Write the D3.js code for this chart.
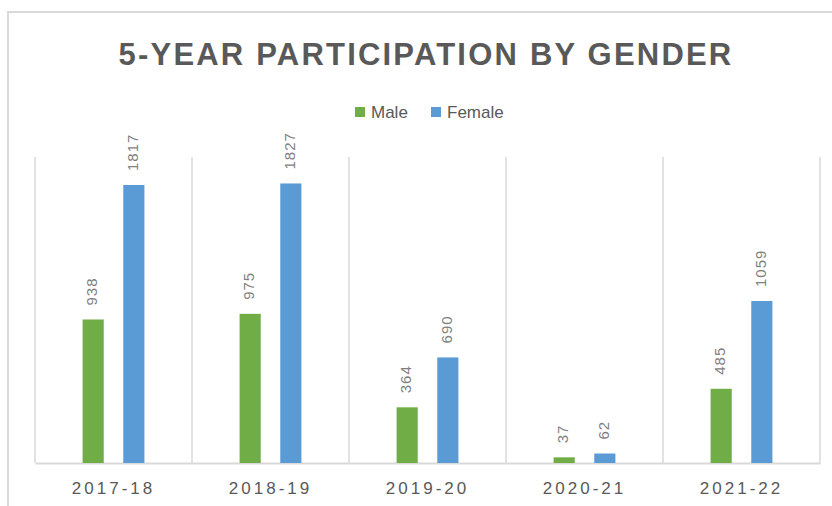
<!DOCTYPE html>
<html>
<head>
<meta charset="utf-8">
<script src="https://cdn.jsdelivr.net/npm/d3@7"></script>
<style>
  body { margin: 0; background: #fff; }
  text { font-family: "Liberation Sans", Arial, sans-serif; }
</style>
</head>
<body>
<div id="chart-area"></div>
<script>
var years = ["2017-18", "2018-19", "2019-20", "2020-21", "2021-22"];
var series = ["Male", "Female"];
var male = [938, 975, 364, 37, 485];
var female = [1817, 1827, 690, 62, 1059];
var colors = ["#70ad47", "#5b9bd5"];

var W = 832, H = 506;
var margin = {left: 35, right: 12, top: 157, bottom: 43};
var width = W - margin.left - margin.right;
var height = H - margin.top - margin.bottom;

var svg = d3.select("#chart-area").append("svg")
    .attr("width", W)
    .attr("height", H);

// outer chart border (runs off the picture on the right and bottom)
svg.append("rect")
    .attr("x", 8).attr("y", 12)
    .attr("width", W).attr("height", H)
    .attr("fill", "none")
    .attr("stroke", "#d9d9d9")
    .attr("stroke-width", 2);

svg.append("text")
    .attr("x", 426).attr("y", 65)
    .attr("text-anchor", "middle")
    .attr("fill", "#595959")
    .style("font-size", "31px")
    .style("font-weight", "bold")
    .style("letter-spacing", "2.2px")
    .text("5-YEAR PARTICIPATION BY GENDER");

// legend
var legend = svg.append("g");
var legendX = [355, 431];
series.forEach(function(s, i) {
    legend.append("rect")
        .attr("x", legendX[i]).attr("y", 107)
        .attr("width", 10).attr("height", 10)
        .attr("fill", colors[i]);
    legend.append("text")
        .attr("x", legendX[i] + 16).attr("y", 118)
        .attr("fill", "#595959")
        .style("font-size", "17px")
        .text(s);
});

var g = svg.append("g")
    .attr("transform", "translate(" + margin.left + "," + margin.top + ")");

var x0 = d3.scaleBand().domain(years).range([0, width]);
var x1 = d3.scaleBand().domain(series).range([0, x0.bandwidth()])
    .paddingInner(0.48).paddingOuter(1.17);
var y = d3.scaleLinear().domain([0, 2000]).range([height, 0]);

// vertical separators between categories
var edges = years.map(function(d) { return x0(d); }).concat([width]);
g.selectAll("line.sep").data(edges).enter()
    .append("line")
    .attr("class", "sep")
    .attr("x1", function(d) { return d; })
    .attr("x2", function(d) { return d; })
    .attr("y1", 0).attr("y2", height)
    .attr("stroke", "#d9d9d9")
    .attr("stroke-width", 1.5);

var xAxis = g.append("g")
    .attr("transform", "translate(0," + height + ")")
    .call(d3.axisBottom(x0).tickSize(0).tickPadding(19));
xAxis.select(".domain").attr("stroke", "#d9d9d9").attr("stroke-width", 2);
xAxis.selectAll("text")
    .attr("fill", "#595959")
    .style("font-size", "17px")
    .style("font-family", "Liberation Sans, Arial, sans-serif")
    .style("letter-spacing", "3px");

var rows = years.map(function(yr, i) {
    return [{year: yr, key: "Male", value: male[i], c: colors[0]},
            {year: yr, key: "Female", value: female[i], c: colors[1]}];
});

var groups = g.selectAll("g.cat").data(rows).enter()
    .append("g")
    .attr("class", "cat")
    .attr("transform", function(d) { return "translate(" + x0(d[0].year) + ",0)"; });

groups.selectAll("rect").data(function(d) { return d; }).enter()
    .append("rect")
    .attr("x", function(d) { return x1(d.key); })
    .attr("y", function(d) { return y(d.value); })
    .attr("width", x1.bandwidth())
    .attr("height", function(d) { return height - y(d.value); })
    .attr("fill", function(d) { return d.c; });

groups.selectAll("text.lbl").data(function(d) { return d; }).enter()
    .append("text")
    .attr("class", "lbl")
    .attr("transform", function(d) {
        return "translate(" + (x1(d.key) + x1.bandwidth() / 2 - 1) + "," + (y(d.value) - 14) + ") rotate(-90)";
    })
    .attr("dy", "0.35em")
    .attr("fill", "#7f7f7f")
    .style("font-size", "15px")
    .style("letter-spacing", "1px")
    .text(function(d) { return d.value; });
</script>
</body>
</html>
